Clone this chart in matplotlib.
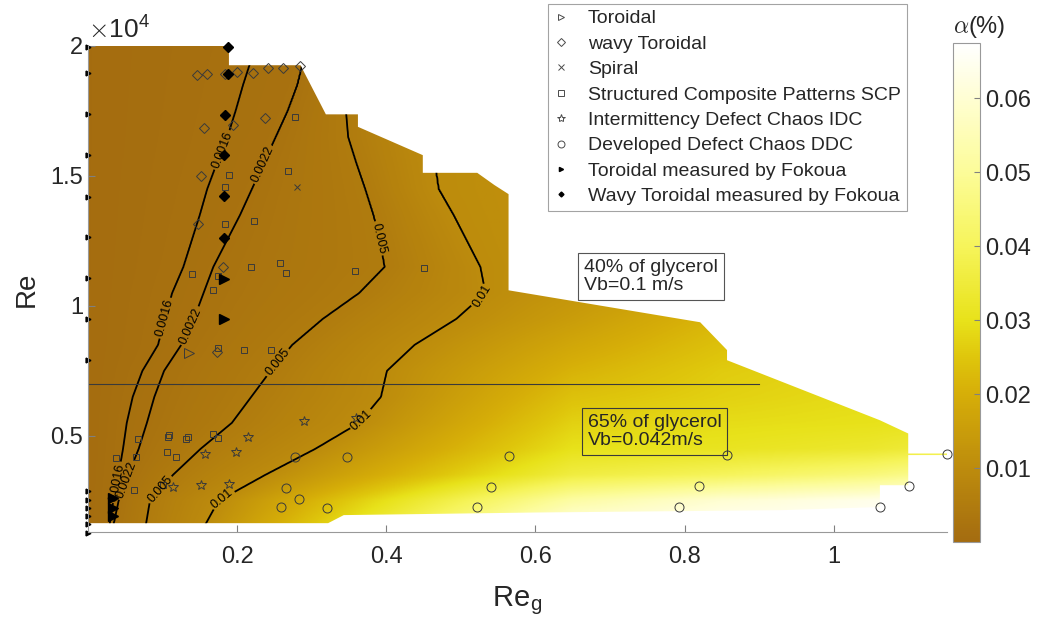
import numpy as np
import matplotlib
matplotlib.use("Agg")
import matplotlib.pyplot as plt
from matplotlib.colors import LinearSegmentedColormap
from matplotlib.patches import Polygon
from matplotlib.lines import Line2D

plt.rcParams['font.family'] = ['Liberation Sans', 'DejaVu Sans']
plt.rcParams['mathtext.fontset'] = 'cm'

# ---- void fraction field, read row by row (Re in units of 1e4) ----
row_re = [0.13, 0.25, 0.35, 0.45, 0.55, 0.65, 0.75, 0.85, 0.95, 1.05,
          1.15, 1.25, 1.35, 1.45, 1.55, 1.65, 1.75, 1.85, 2.0]
# Reg where each contour level crosses the row
x_0016 = [0.028, 0.034, 0.041, 0.047, 0.052, 0.060, 0.073, 0.094, 0.103, 0.113,
          0.128, 0.139, 0.150, 0.160, 0.173, 0.187, 0.198, 0.208, 0.225]
x_0022 = [0.032, 0.041, 0.054, 0.068, 0.079, 0.089, 0.102, 0.125, 0.142, 0.155,
          0.168, 0.186, 0.204, 0.220, 0.236, 0.252, 0.268, 0.281, 0.294]
x_005 = [0.076, 0.083, 0.114, 0.151, 0.193, 0.219, 0.245, 0.274, 0.315, 0.364,
         0.398, 0.392, 0.383, 0.372, 0.360, 0.349, 0.346, 0.344, 0.340]
x_01 = [0.152, 0.175, 0.238, 0.305, 0.364, 0.393, 0.401, 0.438, 0.494, 0.533,
        0.526, 0.508, 0.490, 0.470, 0.465, 0.460, 0.460, 0.460, 0.460]
left_alpha = 0.0005
right_x = [0.65, 0.85, 1.05, 1.16]
right_alpha = [
    [0.065, 0.0675, 0.0675, 0.0675],
    [0.052, 0.060, 0.064, 0.0675],
    [0.036, 0.040, 0.045, 0.050],
    [0.030, 0.031, 0.033, 0.036],
    [0.027, 0.029, 0.030, 0.031],
    [0.024, 0.027, 0.029, 0.029],
    [0.021, 0.026, 0.028, 0.028],
    [0.018, 0.024, 0.026, 0.026],
    [0.015, 0.022, 0.024, 0.024],
    [0.013, 0.018, 0.020, 0.020],
    [0.012, 0.014, 0.015, 0.015],
    [0.012, 0.014, 0.015, 0.015],
    [0.012, 0.014, 0.015, 0.015],
    [0.012, 0.014, 0.015, 0.015],
    [0.012, 0.014, 0.015, 0.015],
    [0.012, 0.014, 0.015, 0.015],
    [0.012, 0.014, 0.015, 0.015],
    [0.012, 0.014, 0.015, 0.015],
    [0.012, 0.014, 0.015, 0.015],
]
levels = [0.0016, 0.0022, 0.005, 0.01]

# measured domain outline
dom_x = [0, 0.189, 0.189, 0.285, 0.319, 0.362, 0.362, 0.449, 0.449, 0.522, 0.545,
         0.564, 0.564, 0.821, 0.857, 0.857, 1.062, 1.100, 1.100, 1.152, 1.152,
         1.100, 1.100, 1.062, 1.062, 0.93, 0.60, 0.343, 0.322, 0]
dom_re = [2.0, 2.0, 1.926, 1.926, 1.737, 1.737, 1.689, 1.580, 1.512, 1.512, 1.465,
          1.43, 1.06, 0.937, 0.83, 0.791, 0.56, 0.509, 0.432, 0.432, 0.426,
          0.426, 0.31, 0.31, 0.226, 0.214, 0.205, 0.195, 0.164, 0.164]

# ---- flow regimes ----
tor_x = [0.136]
tor_re = [0.817]
wavy_x = [0.146, 0.159, 0.184, 0.200, 0.221, 0.242, 0.261, 0.284, 0.155, 0.194,
          0.237, 0.151, 0.148, 0.181, 0.173]
wavy_re = [1.887, 1.891, 1.894, 1.900, 1.898, 1.917, 1.915, 1.923, 1.686, 1.695,
           1.724, 1.500, 1.317, 1.148, 0.821]
spiral_x = [0.280]
spiral_re = [1.458]
scp_x = [0.277, 0.189, 0.184, 0.268, 0.184, 0.223, 0.140, 0.218, 0.258, 0.266,
         0.175, 0.167, 0.175, 0.209, 0.245, 0.358, 0.450, 0.067, 0.065, 0.037,
         0.109, 0.107, 0.134, 0.131, 0.167, 0.174, 0.106, 0.118, 0.062, 0.100]
scp_re = [1.726, 1.504, 1.458, 1.518, 1.317, 1.327, 1.123, 1.150, 1.165, 1.125,
          1.114, 1.060, 0.838, 0.831, 0.832, 1.135, 1.146, 0.486, 0.419, 0.415,
          0.503, 0.494, 0.496, 0.486, 0.507, 0.490, 0.436, 0.419, 0.291, 0.310]
idc_x = [0.157, 0.198, 0.215, 0.290, 0.151, 0.189, 0.114, 0.359]
idc_re = [0.430, 0.436, 0.496, 0.558, 0.310, 0.314, 0.304, 0.568]
ddc_x = [0.277, 0.266, 0.283, 0.259, 0.321, 0.347, 0.565, 0.541, 0.522, 0.857,
         0.819, 0.793, 1.152, 1.101, 1.062]
ddc_re = [0.419, 0.298, 0.257, 0.227, 0.223, 0.419, 0.423, 0.304, 0.225, 0.428,
          0.307, 0.227, 0.430, 0.308, 0.227]
fok_tor_x = [0] * 15
fok_tor_re = [1.995, 1.895, 1.738, 1.580, 1.420, 1.265, 1.107, 0.949, 0.791,
              0.288, 0.255, 0.223, 0.192, 0.160, 0.128]
fok_tor2_x = [0.182, 0.183, 0.034, 0.034, 0.034]
fok_tor2_re = [1.105, 0.948, 0.260, 0.222, 0.192]
fok_wavy_x = [0.188, 0.188, 0.184, 0.182, 0.182, 0.182]
fok_wavy_re = [1.996, 1.894, 1.736, 1.580, 1.422, 1.262]

label_pos = {
    0.0016: [(0.180, 1.60), (0.105, 0.952), (0.040, 0.32)],
    0.0022: [(0.236, 1.541), (0.141, 0.918), (0.052, 0.33)],
    0.005: [(0.390, 1.26), (0.256, 0.779), (0.101, 0.283)],
    0.01: [(0.527, 1.041), (0.370, 0.553), (0.181, 0.253)],
}

SC = 1e4

cmap = LinearSegmentedColormap.from_list('glyc', [
    (0.0, '#a46c10'), (0.01 / 0.0675, '#bd8c0d'), (0.02 / 0.0675, '#d6ae08'),
    (0.025 / 0.0675, '#dfc60c'), (0.03 / 0.0675, '#e8e21a'),
    (0.04 / 0.0675, '#f6f45a'), (0.05 / 0.0675, '#fcfc98'),
    (0.06 / 0.0675, '#fffed2'), (1.0, '#ffffff')])

# build field on a fine grid: crossing positions follow the rows smoothly
gx = np.linspace(0, 1.16, 800)
gy = np.linspace(0.13, 2.0, 700)
cross = [x_0016, x_0022, x_005, x_01]
right_arr = np.array(right_alpha)
field = np.empty((len(gy), len(gx)))
for k, yv in enumerate(gy):
    xa = [0] + [np.interp(yv, row_re, c) for c in cross] + right_x
    va = [left_alpha] + levels + [np.interp(yv, row_re, right_arr[:, j])
                                  for j in range(len(right_x))]
    field[k] = np.interp(gx, xa, va)

fig = plt.figure(figsize=(10.43, 6.27), dpi=100)
ax = fig.add_axes([88 / 1043, 1 - 532 / 627, (947 - 88) / 1043, (532 - 46) / 627])

poly = Polygon(np.column_stack([dom_x, np.array(dom_re) * SC]), closed=True,
               facecolor='none', edgecolor='none')
ax.add_patch(poly)

im = ax.imshow(field, extent=(0, 1.16, 0.13 * SC, 2.0 * SC), origin='lower',
               aspect='auto', cmap=cmap, vmin=0, vmax=0.0675,
               interpolation='bilinear')
im.set_clip_path(poly)

for lev, pos in label_pos.items():
    cs = ax.contour(gx, gy * SC, field, levels=[lev], colors='k', linewidths=1.3)
    cs.set_clip_path(poly)
    ax.clabel(cs, manual=[(px, pr * SC) for px, pr in pos],
              fmt={lev: f'{lev:g}'}, fontsize=9, inline=True, inline_spacing=2)

ax.plot([0, 0.9], [7000, 7000], color='#3a3a3a', lw=0.8)

mk = dict(ls='none', mfc='none', mec='#3a3a3a', mew=0.7, clip_on=False)
ax.plot(tor_x, np.array(tor_re) * SC, marker='>', ms=7, **mk)
ax.plot(wavy_x, np.array(wavy_re) * SC, marker='D', ms=5, **mk)
ax.plot(spiral_x, np.array(spiral_re) * SC, marker='x', ms=5, **mk)
ax.plot(scp_x, np.array(scp_re) * SC, marker='s', ms=5, **mk)
ax.plot(idc_x, np.array(idc_re) * SC, marker='*', ms=7, **mk)
ax.plot(ddc_x, np.array(ddc_re) * SC, marker='o', ms=6.5, **mk)
ax.plot(fok_tor_x, np.array(fok_tor_re) * SC, marker='>', ms=3.5, ls='none',
        color='k', clip_on=False)
ax.plot(fok_tor2_x, np.array(fok_tor2_re) * SC, marker='>', ms=7, ls='none',
        color='k', clip_on=False)
ax.plot(fok_wavy_x, np.array(fok_wavy_re) * SC, marker='D', ms=5.5, ls='none',
        color='k', clip_on=False)

ax.set_xlim(0, 1.152)
ax.set_ylim(0.13 * SC, 2.0 * SC)
ax.set_xticks([0.2, 0.4, 0.6, 0.8, 1.0])
ax.set_xticklabels(['0.2', '0.4', '0.6', '0.8', '1'])
ax.set_yticks([5000, 10000, 15000, 20000])
ax.set_yticklabels(['0.5', '1', '1.5', '2'])
ax.tick_params(direction='in', length=5, color='#808080', labelsize=17,
               labelcolor='#262626', width=0.8)
ax.tick_params(axis='x', pad=10)
for s in ['top', 'right']:
    ax.spines[s].set_visible(False)
for s in ['left', 'bottom']:
    ax.spines[s].set_color('#999999')
    ax.spines[s].set_linewidth(0.8)
ax.set_ylabel('Re', fontsize=20, color='#262626', labelpad=8)
ax.set_xlabel(r'Re$_{\mathregular{g}}$', fontsize=21, color='#262626', labelpad=12)
fig.text(88 / 1043, 1 - 30 / 627, r'$\times\mathregular{10^{4}}$', fontsize=19,
         color='#262626', va='center', ha='left')

# legend
gray = '#4a4a4a'
handles = [
    Line2D([], [], ls='none', marker='>', ms=5, mfc='none', mec=gray, mew=0.7),
    Line2D([], [], ls='none', marker='D', ms=4, mfc='none', mec=gray, mew=0.7),
    Line2D([], [], ls='none', marker='x', ms=4, mec=gray, mew=0.7),
    Line2D([], [], ls='none', marker='s', ms=4, mfc='none', mec=gray, mew=0.7),
    Line2D([], [], ls='none', marker='*', ms=6, mfc='none', mec=gray, mew=0.7),
    Line2D([], [], ls='none', marker='o', ms=5, mfc='none', mec=gray, mew=0.7),
    Line2D([], [], ls='none', marker='>', ms=3, color='k'),
    Line2D([], [], ls='none', marker='D', ms=2.5, color='k'),
]
labels = ['Toroidal', 'wavy Toroidal', 'Spiral', 'Structured Composite Patterns SCP',
          'Intermittency Defect Chaos IDC', 'Developed Defect Chaos DDC',
          'Toroidal measured by Fokoua', 'Wavy Toroidal measured by Fokoua']
leg = ax.legend(handles, labels, loc='upper left',
                bbox_to_anchor=(548 / 1043, 1 - 4 / 627),
                bbox_transform=fig.transFigure, fontsize=14, frameon=True,
                fancybox=False, edgecolor='#8c8c8c', borderaxespad=0,
                labelspacing=0.4, handlelength=0.7, handletextpad=1.05,
                borderpad=0.3)
leg.get_frame().set_linewidth(0.8)
for t in leg.get_texts():
    t.set_color('#262626')

ax.text(0.665, 1.112 * SC, '40% of glycerol\nVb=0.1 m/s', fontsize=14,
        color='#262626', va='center', ha='left', linespacing=1.1,
        bbox=dict(boxstyle='square,pad=0.3', fc='white', ec='#555555', lw=0.8))
ax.text(0.670, 0.518 * SC, '65% of glycerol\nVb=0.042m/s', fontsize=14,
        color='#262626', va='center', ha='left', linespacing=1.1,
        bbox=dict(boxstyle='square,pad=0.3', fc='none', ec='#3a3a3a', lw=0.8))

# colorbar
cax = fig.add_axes([953 / 1043, 1 - 542 / 627, 27 / 1043, (542 - 43) / 627])
cb = fig.colorbar(im, cax=cax, ticks=[0.01, 0.02, 0.03, 0.04, 0.05, 0.06])
cb.ax.set_yticklabels(['0.01', '0.02', '0.03', '0.04', '0.05', '0.06'])
cax.tick_params(direction='in', length=4, color='#808080', labelsize=17,
                labelcolor='#262626', width=0.8)
cb.outline.set_edgecolor('#999999')
cb.outline.set_linewidth(0.8)
fig.text(979 / 1043, 1 - 27 / 627, r'$\alpha$(%)', fontsize=17, color='#262626',
         ha='center', va='center')

fig.savefig('out.png', dpi=100)
